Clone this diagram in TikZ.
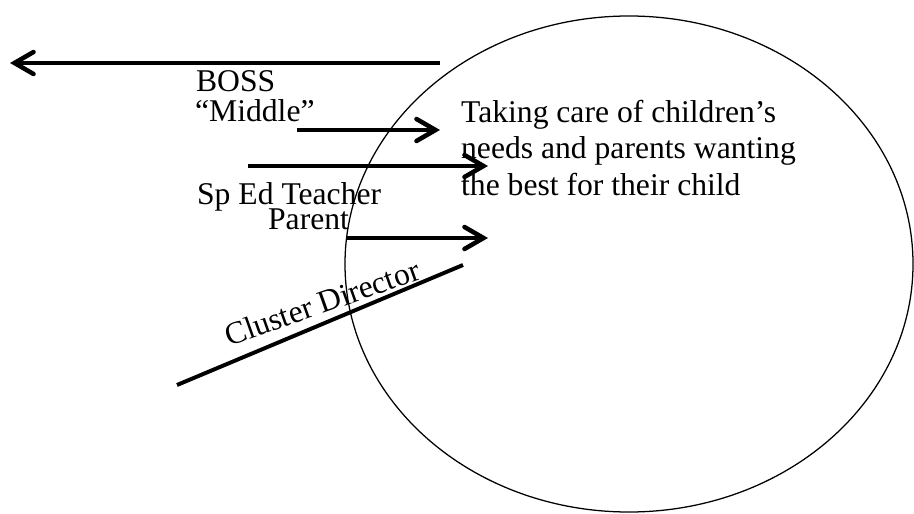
\documentclass[tikz,border=0pt]{standalone}
\usepackage{fontspec}
\setmainfont{Liberation Serif}
\usetikzlibrary{%
  arrows.meta,%
  calc%
}
\tikzset{>={Straight Barb[length=0.95cm,width=1.1cm,line width=0pt 1.15,line cap=round]}}
\tikzset{
  thickline/.style={line width=5.6pt},
  lbl/.style={font=\fontsize{45}{43}\selectfont,inner sep=0pt}
}

\begin{document}
\begin{tikzpicture}
    \useasboundingbox (0cm,0cm) rectangle (45.7cm,25.65cm);

    \draw[line width=1.8pt] (31.45cm,12.45cm) ellipse (14.2cm and 12.4cm);

    \coordinate (bossA) at (22cm,22.5cm);
    \coordinate (bossB) at (0.5cm,22.5cm);
    \draw[thickline,->] (bossA) -- (bossB);

    \node[lbl,anchor=base west] (boss) at (9.8cm,21.05cm) {BOSS};
    \node[lbl,anchor=base west] (middle) at (9.75cm,19.55cm) {“Middle”};

    \coordinate (midA) at (14.85cm,19.15cm);
    \coordinate (midB) at (22cm,19.15cm);
    \draw[thickline,->] (midA) -- (midB);

    \coordinate (spedA) at (12.4cm,17.35cm);
    \coordinate (spedB) at (24.4cm,17.35cm);
    \draw[thickline,->] (spedA) -- (spedB);

    \node[lbl,anchor=base west] (sped) at (9.85cm,15.4cm) {Sp Ed Teacher};
    \node[lbl,anchor=base west] (parent) at (13.4cm,14.15cm) {Parent};

    \coordinate (parA) at (17.3cm,13.75cm);
    \coordinate (parB) at (24.4cm,13.75cm);
    \draw[thickline,->] (parA) -- (parB);

    \coordinate (cdA) at (8.85cm,6.4cm);
    \coordinate (cdB) at (23.15cm,12.4cm);
    \draw[thickline] (cdA) -- (cdB);
    \node[lbl,anchor=base west,rotate=19.5] (cluster) at (11.45cm,8.3cm) {Cluster Director};

    \node[lbl,anchor=north west,align=left,font=\fontsize{45}{52}\selectfont] (care) at (23.05cm,20.65cm)
      {Taking care of children’s\\ needs and parents wanting\\ the best for their child};
\end{tikzpicture}
\end{document}
